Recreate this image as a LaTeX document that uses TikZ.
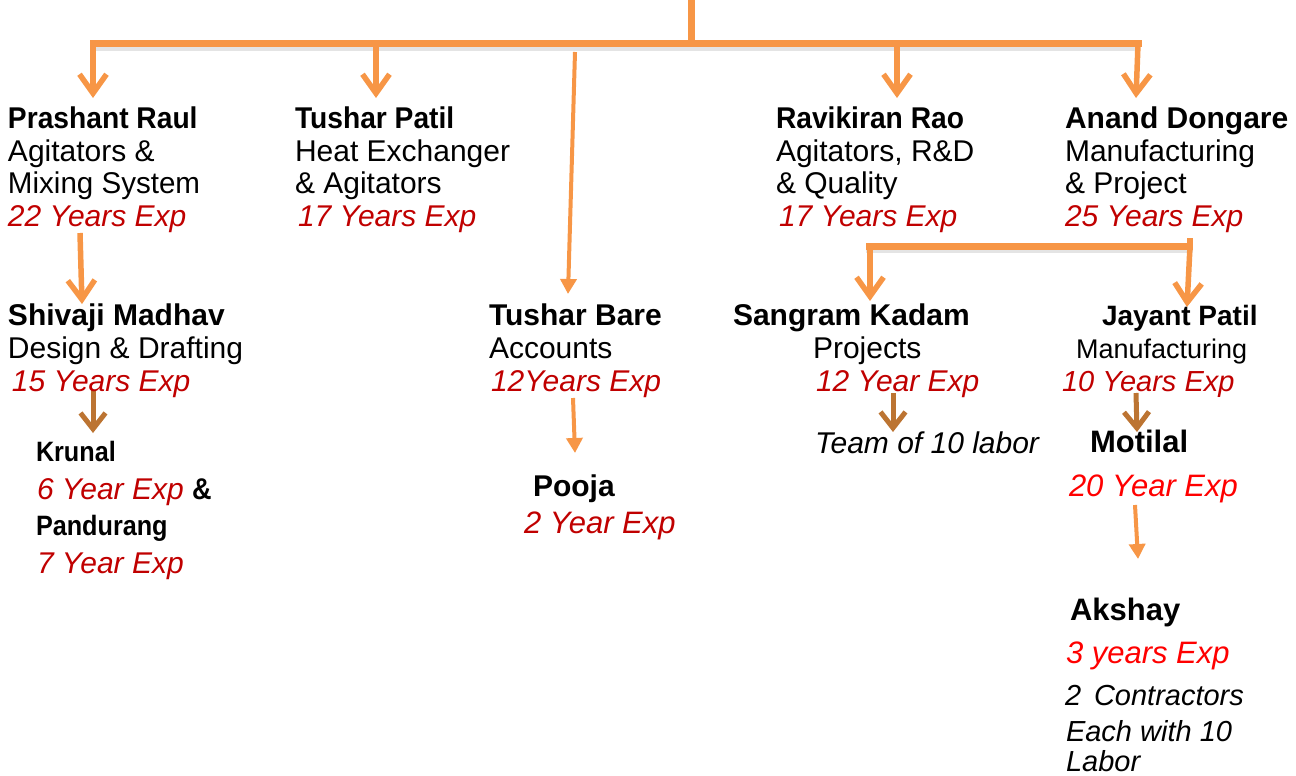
\documentclass[tikz,border=0pt]{standalone}
\usepackage{fontspec}
\usepackage{graphicx}
\setmainfont{Liberation Sans}
\usetikzlibrary{arrows.meta}
\definecolor{orng}{HTML}{F79646}
\definecolor{darkred}{HTML}{C00000}
\definecolor{brightred}{HTML}{FF0000}
\definecolor{brwn}{HTML}{BC7432}
\begin{document}
\begin{tikzpicture}[x=1pt,y=-1pt,
  every node/.style={anchor=base west,inner sep=0pt,outer sep=0pt},
  nm/.style={font=\bfseries\fontsize{30}{36}\selectfont},
  nmsm/.style={font=\bfseries\fontsize{28}{34}\selectfont},
  rl/.style={font=\fontsize{30}{36}\selectfont},
  rlsm/.style={font=\fontsize{27}{32}\selectfont},
  ex/.style={font=\itshape\fontsize{30}{36}\selectfont,text=darkred},
  exr/.style={font=\itshape\fontsize{31}{36}\selectfont,text=brightred},
  it/.style={font=\itshape\fontsize{29}{34}\selectfont},
  bus/.style={draw=orng,line width=7pt},
  drop/.style={draw=orng,line width=5.5pt,-{Straight Barb[length=19pt,width=27pt]}},
  bdrop/.style={draw=brwn,line width=5pt,-{Straight Barb[length=16pt,width=25pt]}},
  tdrop/.style={draw=orng,line width=4pt,-{Triangle[length=15pt,width=16pt]}},
  shadow/.style={draw=black!35,line width=6pt,opacity=0.3}
]
\useasboundingbox (0,0) rectangle (1296,776);

% ---------- coordinates for connectors ----------
\coordinate (root) at (691,-2);
\coordinate (busJ) at (691,44);
\coordinate (busL) at (93,44);
\coordinate (busR) at (1138,44);
\coordinate (busT) at (376,44);
\coordinate (busRv) at (897,44);
\coordinate (inPR) at (93,98);
\coordinate (inTP) at (376,98);
\coordinate (inRR) at (897,98);
\coordinate (inAD) at (1136,98);
\coordinate (tbTop) at (575,52);
\coordinate (inTB) at (568,294);
\coordinate (prOut) at (80,233);
\coordinate (inSM) at (82,304);
\coordinate (smOut) at (93,390);
\coordinate (inKR) at (93,433);
\coordinate (tbOut) at (573,398);
\coordinate (inPO) at (575,453);
\coordinate (adOut) at (1190,238);
\coordinate (subJ) at (1190,246);
\coordinate (subL) at (866,246);
\coordinate (subR) at (1193,246);
\coordinate (subA) at (870,246);
\coordinate (inSK) at (870,301);
\coordinate (inJP) at (1187,307);
\coordinate (skOut) at (893,393);
\coordinate (inTM) at (893,432);
\coordinate (jpOut) at (1136,393);
\coordinate (inMO) at (1137,432);
\coordinate (moOut) at (1135,505);
\coordinate (inAK) at (1138,559);

% ---------- shadows ----------
\draw[shadow] ([yshift=-4pt]busL) -- ([yshift=-4pt]busR);
\draw[shadow] ([yshift=-4pt]subL) -- ([yshift=-4pt]subR);

% ---------- connectors ----------
\draw[bus] (root) -- (busJ);
\draw[bus,line cap=rect] (busL) -- (busR);
\draw[drop] (busL) -- (inPR);
\draw[drop] (busT) -- (inTP);
\draw[drop] (busRv) -- (inRR);
\draw[drop] (busR) -- (inAD);
\draw[tdrop] (tbTop) -- (inTB);
\draw[drop] (prOut) -- (inSM);
\draw[bdrop] (smOut) -- (inKR);
\draw[tdrop] (tbOut) -- (inPO);
\draw[bus,line width=5.5pt] (adOut) -- (subJ);
\draw[bus] (subL) -- (subR);
\draw[drop] (subA) -- (inSK);
\draw[drop] (subJ) -- (inJP);
\draw[bdrop] (skOut) -- (inTM);
\draw[bdrop] (jpOut) -- (inMO);
\draw[tdrop] (moOut) -- (inAK);

% ---------- top row ----------
\node[nm] (prName) at (8,128) {\scalebox{0.94}[1]{Prashant Raul}};
\node[rl] (prRole1) at (8,161) {Agitators \&};
\node[rl] (prRole2) at (8,193) {\scalebox{0.985}[1]{Mixing System}};
\node[ex] (prExp) at (8,226) {22 Years Exp};

\node[nm] (tpName) at (295,128) {\scalebox{0.94}[1]{Tushar Patil}};
\node[rl] (tpRole1) at (295,161) {Heat Exchanger};
\node[rl] (tpRole2) at (295,193) {\& Agitators};
\node[ex] (tpExp) at (298,226) {17 Years Exp};

\node[nm] (rrName) at (776,128) {\scalebox{0.94}[1]{Ravikiran Rao}};
\node[rl] (rrRole1) at (776,161) {Agitators, R\&D};
\node[rl] (rrRole2) at (776,193) {\& Quality};
\node[ex] (rrExp) at (779,226) {17 Years Exp};

\node[nm] (adName) at (1065,128) {Anand Dongare};
\node[rl] (adRole1) at (1065,161) {Manufacturing};
\node[rl] (adRole2) at (1065,193) {\& Project};
\node[ex] (adExp) at (1065,226) {25 Years Exp};

% ---------- second row ----------
\node[nm] (smName) at (8,325) {Shivaji Madhav};
\node[rl] (smRole) at (8,358) {Design \& Drafting};
\node[ex] (smExp) at (12,391) {15 Years Exp};

\node[nm] (tbName) at (489,325) {Tushar Bare};
\node[rl] (tbRole) at (489,358) {Accounts};
\node[ex] (tbExp) at (491,391) {12Years Exp};

\node[nm] (skName) at (733,325) {Sangram Kadam};
\node[rl] (skRole) at (813,358) {Projects};
\node[ex] (skExp) at (816,391) {12 Year Exp};

\node[nmsm] (jpName) at (1102,325) {Jayant Patil};
\node[rlsm] (jpRole) at (1076,358) {Manufacturing};
\node[ex,font=\itshape\fontsize{29}{34}\selectfont] (jpExp) at (1062,391) {10 Years Exp};

% ---------- third level ----------
\node[nmsm] (krName) at (36,461) {\scalebox{0.9}[1]{Krunal}};
\node[ex] (krExp) at (37,499) {6 Year Exp \textnormal{\bfseries\color{black}\scalebox{0.9}[1]{\&}}};
\node[nmsm] (paName) at (36,535) {\scalebox{0.9}[1]{Pandurang}};
\node[ex] (paExp) at (37,573) {7 Year Exp};

\node[nm] (poName) at (533,496) {Pooja};
\node[ex,font=\itshape\fontsize{31}{36}\selectfont] (poExp) at (524,533) {2 Year Exp};

\node[it,font=\itshape\fontsize{30}{36}\selectfont] (team) at (815,453) {Team of 10 labor};

\node[nm,font=\bfseries\fontsize{31}{36}\selectfont] (moName) at (1090,452) {Motilal};
\node[exr] (moExp) at (1069,496) {20 Year Exp};

\node[nm,font=\bfseries\fontsize{31}{36}\selectfont] (akName) at (1070,620) {Akshay};
\node[exr] (akExp) at (1066,663) {3 years Exp};
\node[it] (akC1) at (1065,705) {2\, Contractors};
\node[it] (akC2) at (1066,741) {Each with 10};
\node[it] (akC3) at (1066,771) {Labor};
\end{tikzpicture}
\end{document}
